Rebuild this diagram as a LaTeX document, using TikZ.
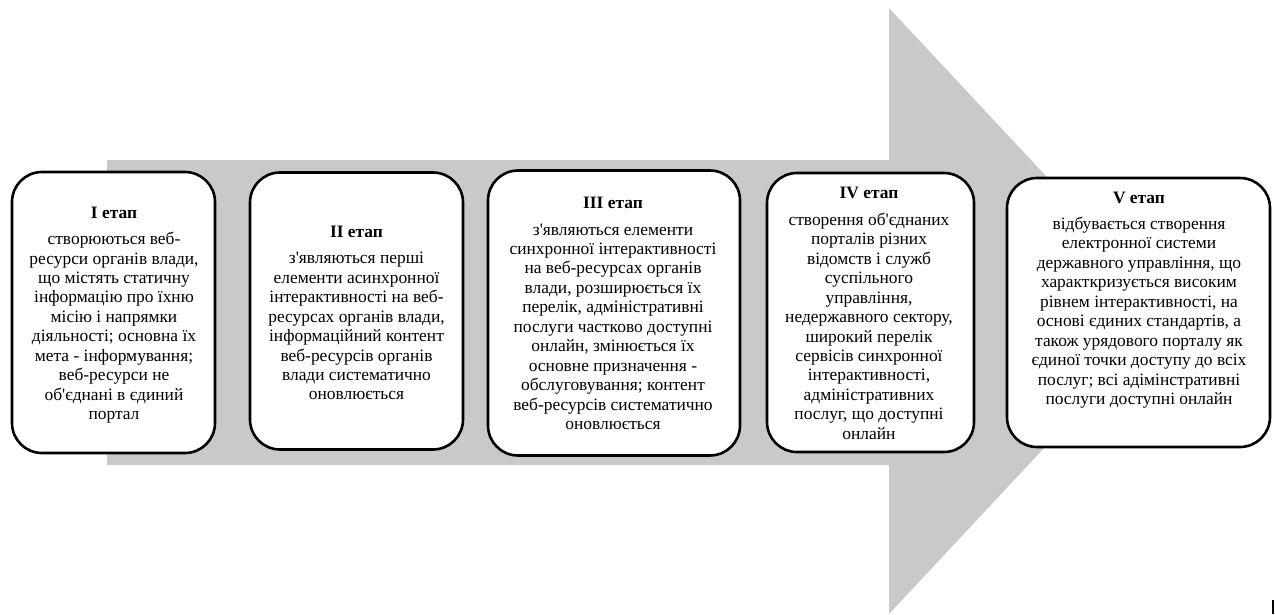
\documentclass[tikz,border=0pt]{standalone}
\usepackage{fontspec}
\setmainfont{Liberation Serif}[Ligatures=TeXOff]
\definecolor{arrowgray}{RGB}{201,201,201}
\begin{document}
\begin{tikzpicture}[x=1pt,y=-1pt,
  stagebox/.style={draw=black, line width=2.6pt, fill=white, rounded corners=30pt, inner sep=0pt},
  stagetext/.style={align=center, font=\fontsize{17.4}{19.45}\selectfont, inner sep=0pt}]
\useasboundingbox (0,0) rectangle (1275,614);
% big background arrow
\fill[arrowgray] (107,160) -- (889,160) -- (889,8) -- (1172,311) -- (889,614) -- (889,465) -- (107,465) -- cycle;
% boxes
\node[stagebox, minimum width=203pt, minimum height=281pt] (b1) at (113.5,312.5) {};
\node[stagebox, minimum width=213pt, minimum height=277pt] (b2) at (356.5,311) {};
\node[stagebox, minimum width=252pt, minimum height=285pt] (b3) at (614,313) {};
\node[stagebox, minimum width=207pt, minimum height=279pt] (b4) at (870.5,312.5) {};
\node[stagebox, minimum width=263pt, minimum height=269pt] (b5) at (1138.5,312.5) {};
% texts
\node[stagetext] (t1) at (114,315) {\textbf{I етап}\\[7pt]
створюються веб-\\ресурси органів влади,\\що містять статичну\\інформацію про їхню\\місію і напрямки\\діяльності; основна їх\\мета - інформування;\\веб-ресурси не\\об'єднані в єдиний\\портал};
\node[stagetext] (t2) at (356.5,313) {\textbf{II етап}\\[7pt]
з'являються перші\\елементи асинхронної\\інтерактивності на веб-\\ресурсах органів влади,\\інформаційний контент\\веб-ресурсів органів\\влади систематично\\оновлюється};
\node[stagetext] (t3) at (613,313.5) {\textbf{III етап}\\[7pt]
з'являються елементи\\синхронної інтерактивності\\на веб-ресурсах органів\\влади, розширюється їх\\перелік, адміністративні\\послуги частково доступні\\онлайн, змінюється їх\\основне призначення -\\обслуговування; контент\\веб-ресурсів систематично\\оновлюється};
\node[stagetext] (t4) at (869,313.5) {\textbf{IV етап}\\[7pt]
створення об'єднаних\\порталів різних\\відомств і служб\\суспільного\\управління,\\недержавного сектору,\\широкий перелік\\сервісів синхронної\\інтерактивності,\\адміністративних\\послуг, що доступні\\онлайн};
\node[stagetext] (t5) at (1139,300) {\textbf{V етап}\\[7pt]
відбувається створення\\електронної системи\\державного управління, що\\характкризується високим\\рівнем інтерактивності, на\\основі єдиних стандартів, а\\також урядового порталу як\\єдиної точки доступу до всіх\\послуг; всі адімінстративні\\послуги доступні онлайн};
% small mark at bottom right
\coordinate (m1) at (1273,600);
\coordinate (m2) at (1273,614);
\draw[line width=1.2pt] (m1) -- (m2);
\end{tikzpicture}
\end{document}
